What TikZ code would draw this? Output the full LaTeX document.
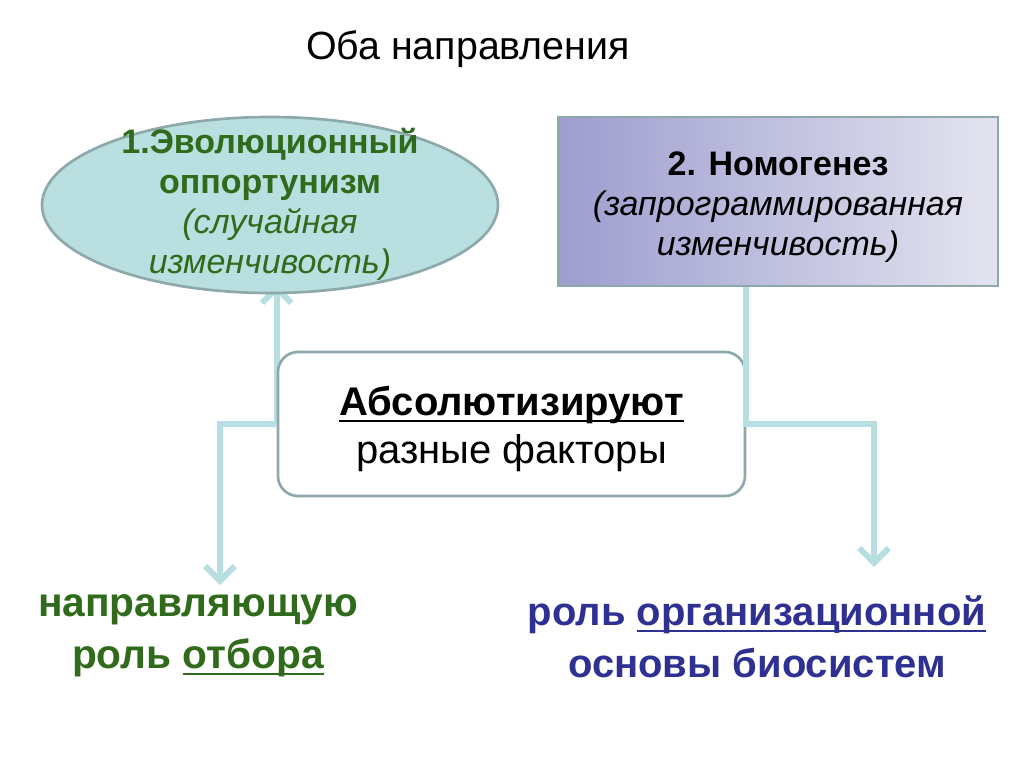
\documentclass[tikz,border=0pt]{standalone}
\usepackage{fontspec}
\setmainfont{Liberation Sans}
\usetikzlibrary{arrows.meta,shapes.geometric}
\pgfdeclarelayer{background}
\pgfsetlayers{background,main}
\definecolor{conncol}{HTML}{B7DEE1}
\definecolor{edgecol}{HTML}{8DA9AB}
\definecolor{ellfill}{HTML}{B9DFE1}
\definecolor{grn}{HTML}{2F6B1B}
\definecolor{blu}{HTML}{2E3192}
\definecolor{lavL}{HTML}{9D9DCF}
\definecolor{lavR}{HTML}{E4E4F0}
\newcommand\myul[1]{\setbox0\hbox{#1}\rlap{\rule[-0.16em]{\wd0}{1.8pt}}\box0}
\begin{document}
\begin{tikzpicture}[x=0.75pt,y=-0.75pt,
  conn/.style={draw=conncol, line width=4.5pt, line join=miter},
  tipstyle/.style={-{Straight Barb[length=11pt,width=22pt]}},
  bigtxt/.style={font=\fontsize{30}{39}\selectfont, align=center, inner sep=0pt},
  midtxt/.style={font=\fontsize{25.5}{30}\selectfont, align=center, inner sep=0pt}]
\useasboundingbox (0,0) rectangle (1024,767);
\begin{pgfonlayer}{background}
\fill[white] (0,0) rectangle (1024,767);
\end{pgfonlayer}

\node[font=\fontsize{29.5}{32}\selectfont, inner sep=0pt] (title) at (468,49) {Оба направления};

\node[ellipse, draw=edgecol, line width=2pt, fill=ellfill, minimum width=342pt, minimum height=132pt, inner sep=0pt] (evo) at (270,205) {};
\node[midtxt, text=grn] (evotxt) at (270,204) {\textbf{1.Эволюционный}\\\textbf{оппортунизм}\\\textit{(случайная}\\\textit{изменчивость)}};

\node[rectangle, draw=edgecol, line width=2.2pt, left color=lavL, right color=lavR, minimum width=330pt, minimum height=126.75pt] (nom) at (778,201.5) {};
\node[midtxt] (nomtxt) at (778,207) {\textbf{2. Номогенез}\\\textit{(запрограммированная}\\\textit{изменчивость)}};

\node[rectangle, rounded corners=15pt, draw=edgecol, line width=2pt, fill=white, minimum width=350.25pt, minimum height=108pt] (abs) at (511.5,424) {};
\node[bigtxt, font=\fontsize{30}{36}\selectfont] (abstxt) at (511.5,429) {\textbf{\myul{Абсолютизируют}}\\разные факторы};

\coordinate (evotip) at (278,284);
\coordinate (lefttip) at (220,585);
\coordinate (righttip) at (874,567);

\begin{pgfonlayer}{background}
\draw[conn, tipstyle] (abs.west) -- (abs.west |- evotip);
\end{pgfonlayer}
\draw[conn, tipstyle] (abs.west) -| (lefttip);
\draw[conn, tipstyle] (nom.south -| abs.east) -- (abs.east) -| (righttip);

\node[bigtxt, text=grn, font=\bfseries\fontsize{30.5}{39}\selectfont] (sel) at (198,636) {направляющую\\роль \myul{отбора}};
\node[bigtxt, text=blu, font=\bfseries\fontsize{30}{39}\selectfont] (org) at (757,637) {роль \myul{организационной}\\основы биосистем};
\end{tikzpicture}
\end{document}
